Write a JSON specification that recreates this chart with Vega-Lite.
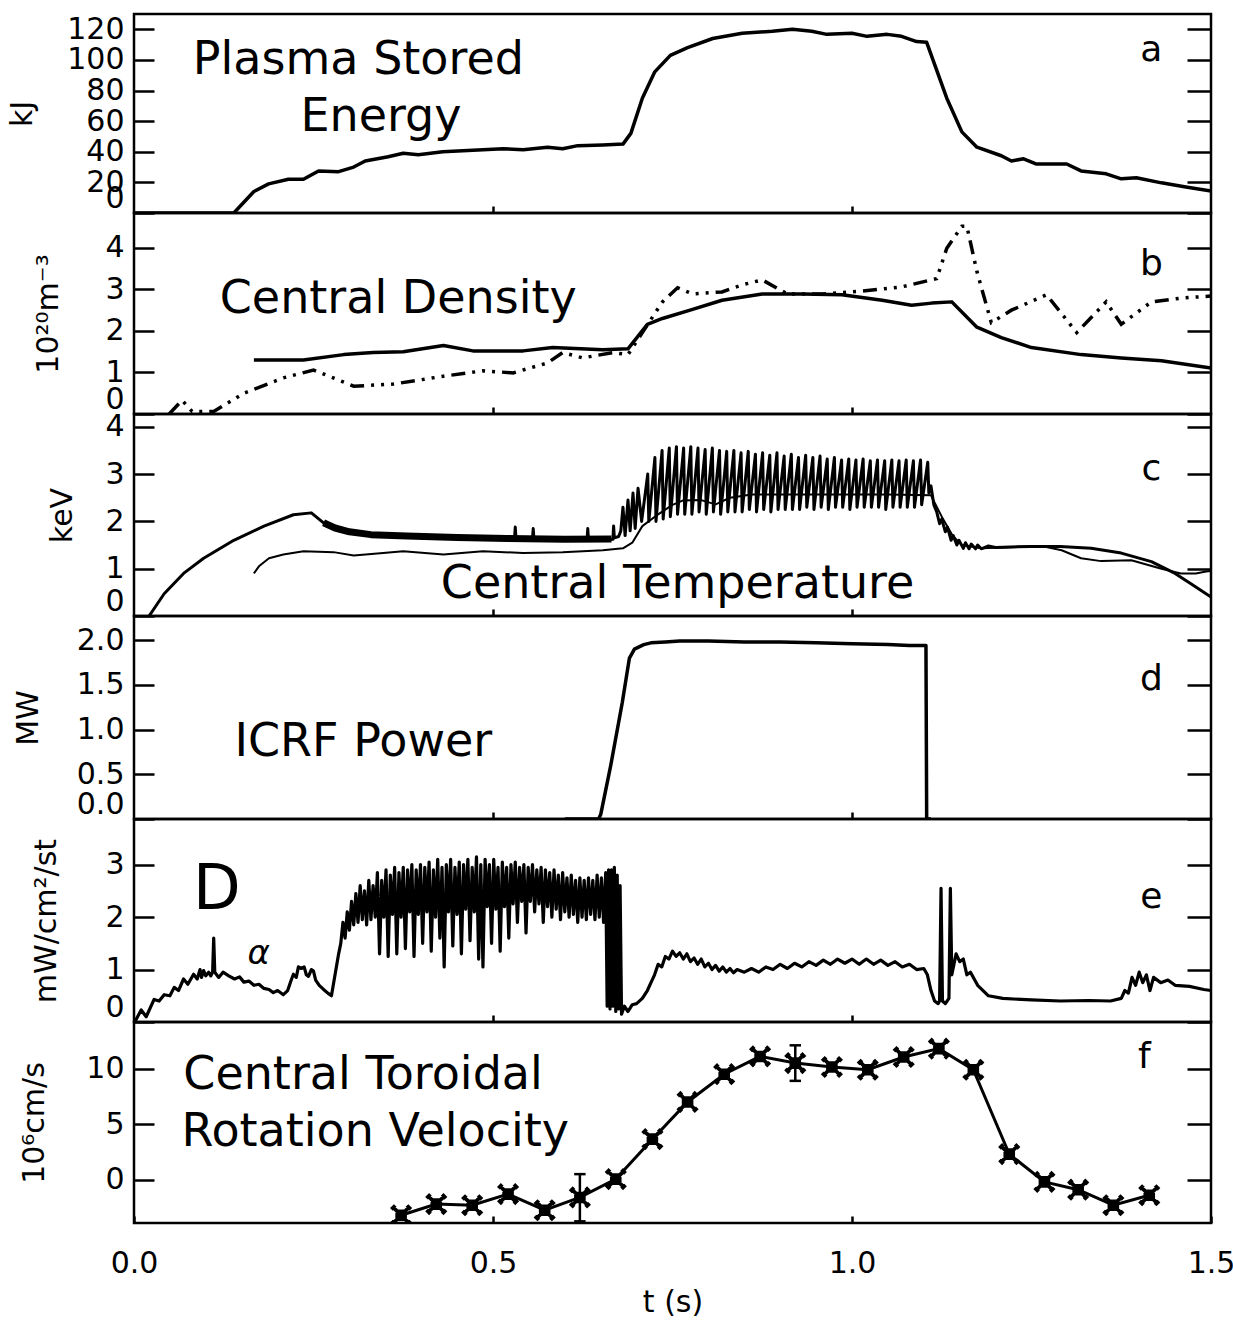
{
"$schema": "https://vega.github.io/schema/vega-lite/v6.json",
"padding": {"top": 12, "left": 5, "right": 5, "bottom": 5},
"spacing": 0,
"bounds": "flush",
"config": {
 "view": {"stroke": "black", "strokeWidth": 2.5},
 "axis": {"labelFont": "DejaVu Sans", "labelFontSize": 30, "labelColor": "black", "titleFont": "DejaVu Sans", "titleFontSize": 30, "titleFontWeight": "normal", "titleColor": "black", "domain": false, "grid": false, "tickColor": "black", "tickWidth": 2.5, "labelOverlap": false},
 "text": {"font": "DejaVu Sans", "color": "black"}
},
"datasets": {
 "energy": [{"t":0,"v":0},{"t":0.139,"v":0},{"t":0.167,"v":14},{"t":0.1875,"v":19},{"t":0.215,"v":22},{"t":0.236,"v":22},{"t":0.257,"v":27.5},{"t":0.285,"v":27},{"t":0.306,"v":30},{"t":0.322,"v":34},{"t":0.354,"v":36.7},{"t":0.375,"v":39},{"t":0.396,"v":38},{"t":0.43,"v":40},{"t":0.472,"v":41},{"t":0.514,"v":42},{"t":0.542,"v":41.3},{"t":0.576,"v":43},{"t":0.597,"v":42},{"t":0.618,"v":44},{"t":0.653,"v":44.5},{"t":0.681,"v":45},{"t":0.692,"v":52},{"t":0.708,"v":75},{"t":0.725,"v":92},{"t":0.747,"v":103},{"t":0.771,"v":108},{"t":0.806,"v":114},{"t":0.847,"v":117.4},{"t":0.889,"v":118.7},{"t":0.917,"v":120},{"t":0.944,"v":118.7},{"t":0.965,"v":116.7},{"t":1.0,"v":117.4},{"t":1.021,"v":115.4},{"t":1.049,"v":116.7},{"t":1.069,"v":115.4},{"t":1.09,"v":112},{"t":1.104,"v":111.5},{"t":1.132,"v":75},{"t":1.153,"v":53},{"t":1.174,"v":43},{"t":1.208,"v":37.4},{"t":1.222,"v":34},{"t":1.239,"v":35.4},{"t":1.257,"v":32},{"t":1.299,"v":32},{"t":1.319,"v":27.5},{"t":1.354,"v":25.6},{"t":1.375,"v":22.3},{"t":1.396,"v":23},{"t":1.431,"v":19.7},{"t":1.465,"v":17},{"t":1.5,"v":14.4}],
 "dsolid": [{"t":0.167,"v":1.3},{"t":0.236,"v":1.3},{"t":0.292,"v":1.43},{"t":0.333,"v":1.48},{"t":0.375,"v":1.5},{"t":0.431,"v":1.65},{"t":0.472,"v":1.52},{"t":0.542,"v":1.52},{"t":0.583,"v":1.6},{"t":0.653,"v":1.55},{"t":0.688,"v":1.57},{"t":0.715,"v":2.16},{"t":0.736,"v":2.3},{"t":0.778,"v":2.52},{"t":0.819,"v":2.74},{"t":0.875,"v":2.89},{"t":0.931,"v":2.89},{"t":0.986,"v":2.87},{"t":1.042,"v":2.74},{"t":1.083,"v":2.62},{"t":1.111,"v":2.67},{"t":1.139,"v":2.7},{"t":1.174,"v":2.09},{"t":1.208,"v":1.84},{"t":1.25,"v":1.6},{"t":1.319,"v":1.43},{"t":1.375,"v":1.35},{"t":1.431,"v":1.28},{"t":1.5,"v":1.11}],
 "ddash": [{"t":0.049,"v":0},{"t":0.067,"v":0.33},{"t":0.081,"v":0.06},{"t":0.111,"v":0.06},{"t":0.153,"v":0.5},{"t":0.208,"v":0.87},{"t":0.25,"v":1.06},{"t":0.306,"v":0.67},{"t":0.361,"v":0.72},{"t":0.431,"v":0.91},{"t":0.486,"v":1.04},{"t":0.528,"v":0.99},{"t":0.576,"v":1.23},{"t":0.597,"v":1.48},{"t":0.625,"v":1.35},{"t":0.667,"v":1.48},{"t":0.688,"v":1.43},{"t":0.708,"v":1.96},{"t":0.736,"v":2.7},{"t":0.757,"v":3.04},{"t":0.778,"v":2.89},{"t":0.819,"v":2.94},{"t":0.847,"v":3.11},{"t":0.875,"v":3.23},{"t":0.91,"v":2.89},{"t":0.958,"v":2.89},{"t":1.014,"v":2.96},{"t":1.069,"v":3.06},{"t":1.118,"v":3.26},{"t":1.132,"v":3.99},{"t":1.153,"v":4.52},{"t":1.16,"v":4.52},{"t":1.174,"v":3.43},{"t":1.194,"v":2.2},{"t":1.222,"v":2.5},{"t":1.271,"v":2.87},{"t":1.313,"v":1.96},{"t":1.354,"v":2.7},{"t":1.375,"v":2.16},{"t":1.417,"v":2.7},{"t":1.458,"v":2.79},{"t":1.5,"v":2.84}],
 "te": [{"t":0.021,"v":0},{"t":0.042,"v":0.47},{"t":0.069,"v":0.9},{"t":0.097,"v":1.22},{"t":0.139,"v":1.6},{"t":0.181,"v":1.9},{"t":0.222,"v":2.14},{"t":0.247,"v":2.18},{"t":0.264,"v":1.97},{"t":0.292,"v":1.8},{"t":0.347,"v":1.69},{"t":0.444,"v":1.65},{"t":0.53,"v":1.64},{"t":0.531,"v":1.88},{"t":0.532,"v":1.64},{"t":0.555,"v":1.63},{"t":0.556,"v":1.85},{"t":0.557,"v":1.63},{"t":0.631,"v":1.61},{"t":0.632,"v":1.85},{"t":0.633,"v":1.61},{"t":0.653,"v":1.6},{"t":0.667,"v":1.62},{"t":0.668,"v":1.9},{"t":0.669,"v":1.65},{"t":0.675,"v":1.68},{"t":0.678,"v":1.8},{"t":0.681,"v":2.3},{"t":0.684,"v":1.7},{"t":0.688,"v":2.45},{"t":0.691,"v":1.8},{"t":0.695,"v":2.6},{"t":0.698,"v":1.85},{"t":0.702,"v":2.7},
 {"t":0.707,"v":2.0},{"t":0.7155,"v":3.0},{"t":0.717,"v":2.0},{"t":0.7255,"v":3.35},{"t":0.727,"v":2.0},{"t":0.7355,"v":3.5},{"t":0.737,"v":2.05},{"t":0.7455,"v":3.55},{"t":0.747,"v":2.1},{"t":0.7555,"v":3.58},{"t":0.757,"v":2.15},{"t":0.7655,"v":3.55},{"t":0.767,"v":2.15},{"t":0.7755,"v":3.58},{"t":0.777,"v":2.15},{"t":0.7855,"v":3.55},{"t":0.787,"v":2.2},{"t":0.7955,"v":3.52},{"t":0.797,"v":2.15},{"t":0.8055,"v":3.55},{"t":0.807,"v":2.2},{"t":0.8155,"v":3.5},{"t":0.817,"v":2.15},{"t":0.8255,"v":3.48},{"t":0.827,"v":2.2},{"t":0.8355,"v":3.5},{"t":0.837,"v":2.2},{"t":0.8455,"v":3.45},{"t":0.847,"v":2.2},{"t":0.8555,"v":3.48},{"t":0.857,"v":2.25},{"t":0.8655,"v":3.42},{"t":0.867,"v":2.2},{"t":0.8755,"v":3.45},{"t":0.877,"v":2.25},{"t":0.8855,"v":3.4},{"t":0.887,"v":2.2},{"t":0.8955,"v":3.45},{"t":0.897,"v":2.25},{"t":0.9055,"v":3.38},{"t":0.907,"v":2.25},{"t":0.9155,"v":3.42},{"t":0.917,"v":2.25},{"t":0.9255,"v":3.35},{"t":0.927,"v":2.25},{"t":0.9355,"v":3.4},{"t":0.937,"v":2.3},{"t":0.9455,"v":3.35},{"t":0.947,"v":2.25},{"t":0.9555,"v":3.38},{"t":0.957,"v":2.3},{"t":0.9655,"v":3.32},{"t":0.967,"v":2.25},{"t":0.9755,"v":3.35},{"t":0.977,"v":2.3},{"t":0.9855,"v":3.3},{"t":0.987,"v":2.3},{"t":0.9955,"v":3.32},{"t":0.997,"v":2.25},{"t":1.0055,"v":3.3},{"t":1.007,"v":2.3},{"t":1.0155,"v":3.32},{"t":1.017,"v":2.3},{"t":1.0255,"v":3.28},{"t":1.027,"v":2.3},{"t":1.0355,"v":3.3},{"t":1.037,"v":2.3},{"t":1.0455,"v":3.28},{"t":1.047,"v":2.25},{"t":1.0555,"v":3.3},{"t":1.057,"v":2.3},{"t":1.0655,"v":3.28},{"t":1.067,"v":2.3},{"t":1.0755,"v":3.3},{"t":1.077,"v":2.3},{"t":1.0855,"v":3.28},{"t":1.087,"v":2.3},{"t":1.0955,"v":3.3},{"t":1.097,"v":2.35},{"t":1.1055,"v":3.25},
 {"t":1.107,"v":2.6},{"t":1.11,"v":2.75},{"t":1.114,"v":2.35},{"t":1.118,"v":2.2},{"t":1.122,"v":1.95},{"t":1.125,"v":2.05},{"t":1.13,"v":1.78},{"t":1.133,"v":1.88},{"t":1.138,"v":1.6},{"t":1.141,"v":1.7},{"t":1.146,"v":1.5},{"t":1.149,"v":1.6},{"t":1.155,"v":1.43},{"t":1.158,"v":1.55},{"t":1.163,"v":1.42},{"t":1.166,"v":1.52},{"t":1.172,"v":1.42},{"t":1.175,"v":1.5},{"t":1.18,"v":1.42},{"t":1.19,"v":1.48},{"t":1.2,"v":1.45},{"t":1.25,"v":1.47},{"t":1.29,"v":1.47},{"t":1.333,"v":1.43},{"t":1.375,"v":1.33},{"t":1.417,"v":1.15},{"t":1.45,"v":0.9},{"t":1.472,"v":0.68},{"t":1.5,"v":0.4}],
 "teband": [{"t":0.264,"v":1.97},{"t":0.28,"v":1.86},{"t":0.3,"v":1.78},{"t":0.33,"v":1.72},{"t":0.38,"v":1.69},{"t":0.45,"v":1.66},{"t":0.52,"v":1.64},{"t":0.6,"v":1.62},{"t":0.665,"v":1.63}],
 "ti": [{"t":0.167,"v":0.9},{"t":0.174,"v":1.05},{"t":0.188,"v":1.22},{"t":0.208,"v":1.3},{"t":0.236,"v":1.37},{"t":0.278,"v":1.35},{"t":0.306,"v":1.28},{"t":0.347,"v":1.33},{"t":0.375,"v":1.37},{"t":0.431,"v":1.3},{"t":0.486,"v":1.37},{"t":0.542,"v":1.33},{"t":0.597,"v":1.35},{"t":0.653,"v":1.39},{"t":0.681,"v":1.43},{"t":0.694,"v":1.55},{"t":0.708,"v":1.9},{"t":0.73,"v":2.15},{"t":0.75,"v":2.35},{"t":0.764,"v":2.44},{"t":0.79,"v":2.45},{"t":0.81,"v":2.36},{"t":0.83,"v":2.5},{"t":0.86,"v":2.57},{"t":0.95,"v":2.57},{"t":1.05,"v":2.57},{"t":1.11,"v":2.55},{"t":1.125,"v":2.1},{"t":1.14,"v":1.7},{"t":1.153,"v":1.5},{"t":1.18,"v":1.43},{"t":1.264,"v":1.48},{"t":1.292,"v":1.39},{"t":1.319,"v":1.22},{"t":1.347,"v":1.16},{"t":1.389,"v":1.18},{"t":1.431,"v":1.0},{"t":1.458,"v":0.9},{"t":1.479,"v":0.9},{"t":1.493,"v":0.94},{"t":1.5,"v":0.95}],
 "icrf": [{"t":0.6,"v":0},{"t":0.647,"v":0},{"t":0.65,"v":0.05},{"t":0.664,"v":0.6},{"t":0.68,"v":1.3},{"t":0.69,"v":1.8},{"t":0.697,"v":1.9},{"t":0.71,"v":1.95},{"t":0.72,"v":1.97},{"t":0.74,"v":1.98},{"t":0.76,"v":1.99},{"t":0.8,"v":1.99},{"t":0.85,"v":1.98},{"t":0.9,"v":1.98},{"t":0.95,"v":1.97},{"t":1.0,"v":1.96},{"t":1.05,"v":1.95},{"t":1.08,"v":1.94},{"t":1.103,"v":1.94},{"t":1.104,"v":0},{"t":1.11,"v":0}],
 "dalpha": [{"t":0.0,"v":0.02},{"t":0.003,"v":0.05},{"t":0.01,"v":0.23},{"t":0.017,"v":0.1},{"t":0.028,"v":0.43},{"t":0.035,"v":0.4},{"t":0.042,"v":0.52},{"t":0.05,"v":0.5},{"t":0.056,"v":0.66},{"t":0.062,"v":0.6},{"t":0.069,"v":0.82},{"t":0.075,"v":0.72},{"t":0.083,"v":0.91},{"t":0.088,"v":0.82},{"t":0.092,"v":1.0},{"t":0.094,"v":0.85},{"t":0.097,"v":0.98},{"t":0.1,"v":0.88},{"t":0.104,"v":0.95},{"t":0.107,"v":0.88},{"t":0.1095,"v":0.95},{"t":0.111,"v":1.6},{"t":0.1125,"v":0.95},{"t":0.118,"v":0.85},{"t":0.124,"v":0.95},{"t":0.132,"v":0.88},{"t":0.14,"v":0.82},{"t":0.147,"v":0.86},{"t":0.153,"v":0.76},{"t":0.16,"v":0.78},{"t":0.167,"v":0.7},{"t":0.174,"v":0.72},{"t":0.181,"v":0.64},{"t":0.188,"v":0.62},{"t":0.194,"v":0.56},{"t":0.2,"v":0.6},{"t":0.208,"v":0.52},{"t":0.214,"v":0.6},{"t":0.219,"v":0.8},{"t":0.222,"v":0.91},{"t":0.226,"v":0.85},{"t":0.229,"v":1.05},{"t":0.233,"v":1.02},{"t":0.237,"v":1.05},{"t":0.24,"v":0.9},{"t":0.243,"v":0.87},{"t":0.247,"v":1.0},{"t":0.25,"v":0.97},{"t":0.253,"v":0.8},{"t":0.258,"v":0.7},{"t":0.264,"v":0.62},{"t":0.27,"v":0.55},{"t":0.275,"v":0.5},{"t":0.28,"v":0.9},{"t":0.285,"v":1.3},
 {"t":0.288,"v":1.5},{"t":0.291,"v":1.9},{"t":0.294,"v":1.6},{"t":0.297,"v":2.1},{"t":0.3,"v":1.75},{"t":0.303,"v":2.3},{"t":0.306,"v":1.85},{"t":0.309,"v":2.45},{"t":0.312,"v":1.9},{"t":0.315,"v":2.6},{"t":0.318,"v":1.95},{"t":0.321,"v":2.5},{"t":0.324,"v":1.85},{"t":0.327,"v":2.7},{"t":0.33,"v":1.95},{"t":0.333,"v":2.6},{"t":0.336,"v":2.0},{"t":0.339,"v":2.85},{"t":0.342,"v":1.3},{"t":0.345,"v":2.7},{"t":0.348,"v":2.0},{"t":0.351,"v":2.9},{"t":0.354,"v":1.25},{"t":0.357,"v":2.8},{"t":0.36,"v":2.05},{"t":0.363,"v":2.95},{"t":0.366,"v":1.3},{"t":0.369,"v":2.85},{"t":0.372,"v":2.0},{"t":0.375,"v":2.95},{"t":0.378,"v":1.4},{"t":0.381,"v":2.9},{"t":0.384,"v":2.1},{"t":0.387,"v":3.0},{"t":0.39,"v":1.25},{"t":0.393,"v":2.9},{"t":0.396,"v":2.05},{"t":0.399,"v":3.0},{"t":0.402,"v":1.5},{"t":0.405,"v":2.95},{"t":0.408,"v":2.1},{"t":0.411,"v":3.05},{"t":0.414,"v":1.35},{"t":0.417,"v":2.9},{"t":0.42,"v":2.0},{"t":0.423,"v":3.1},{"t":0.426,"v":1.6},{"t":0.429,"v":2.95},{"t":0.432,"v":1.05},{"t":0.435,"v":3.0},{"t":0.438,"v":2.1},{"t":0.441,"v":3.1},{"t":0.444,"v":1.45},{"t":0.447,"v":2.95},{"t":0.45,"v":2.05},{"t":0.453,"v":3.05},{"t":0.456,"v":1.3},{"t":0.459,"v":3.0},{"t":0.462,"v":2.15},{"t":0.465,"v":3.1},{"t":0.468,"v":1.55},{"t":0.471,"v":2.95},{"t":0.474,"v":2.1},{"t":0.477,"v":3.15},{"t":0.48,"v":1.2},{"t":0.483,"v":3.0},{"t":0.486,"v":1.05},{"t":0.489,"v":3.1},{"t":0.492,"v":2.2},{"t":0.495,"v":3.0},{"t":0.498,"v":1.5},{"t":0.501,"v":3.1},{"t":0.504,"v":2.15},{"t":0.507,"v":2.95},{"t":0.51,"v":1.35},{"t":0.513,"v":3.05},{"t":0.516,"v":2.2},{"t":0.519,"v":2.95},{"t":0.522,"v":1.6},{"t":0.525,"v":3.0},{"t":0.528,"v":2.25},{"t":0.531,"v":3.05},{"t":0.534,"v":1.9},{"t":0.537,"v":2.95},{"t":0.54,"v":2.3},{"t":0.543,"v":3.0},{"t":0.546,"v":1.7},{"t":0.549,"v":2.95},{"t":0.552,"v":2.3},{"t":0.555,"v":3.0},{"t":0.558,"v":2.1},{"t":0.561,"v":2.9},{"t":0.564,"v":2.25},{"t":0.567,"v":2.95},{"t":0.57,"v":1.9},{"t":0.573,"v":2.9},{"t":0.576,"v":2.2},{"t":0.579,"v":2.85},{"t":0.582,"v":2.0},{"t":0.585,"v":2.9},{"t":0.588,"v":2.15},{"t":0.591,"v":2.8},{"t":0.594,"v":1.95},{"t":0.597,"v":2.85},{"t":0.6,"v":2.1},{"t":0.603,"v":2.75},{"t":0.606,"v":2.0},{"t":0.609,"v":2.8},{"t":0.612,"v":2.05},{"t":0.615,"v":2.7},{"t":0.618,"v":1.9},{"t":0.621,"v":2.75},{"t":0.624,"v":2.0},{"t":0.627,"v":2.7},{"t":0.63,"v":1.95},{"t":0.633,"v":2.75},{"t":0.636,"v":2.05},{"t":0.639,"v":2.7},{"t":0.642,"v":1.95},{"t":0.645,"v":2.8},{"t":0.648,"v":2.0},{"t":0.651,"v":2.75},{"t":0.654,"v":1.9},{"t":0.657,"v":2.85},{"t":0.659,"v":0.3},{"t":0.661,"v":2.9},{"t":0.663,"v":0.25},{"t":0.665,"v":2.9},{"t":0.667,"v":0.3},{"t":0.669,"v":2.95},{"t":0.671,"v":0.2},{"t":0.673,"v":2.8},{"t":0.675,"v":0.25},{"t":0.677,"v":2.6},{"t":0.679,"v":0.15},{"t":0.683,"v":0.3},{"t":0.688,"v":0.2},
 {"t":0.694,"v":0.33},{"t":0.7,"v":0.35},{"t":0.708,"v":0.45},{"t":0.715,"v":0.6},{"t":0.72,"v":0.75},{"t":0.725,"v":0.9},{"t":0.73,"v":1.1},{"t":0.735,"v":1.05},{"t":0.74,"v":1.25},{"t":0.745,"v":1.2},{"t":0.75,"v":1.35},{"t":0.755,"v":1.25},{"t":0.76,"v":1.32},{"t":0.765,"v":1.2},{"t":0.77,"v":1.3},{"t":0.775,"v":1.15},{"t":0.78,"v":1.22},{"t":0.785,"v":1.1},{"t":0.79,"v":1.2},{"t":0.795,"v":1.05},{"t":0.8,"v":1.12},{"t":0.805,"v":1.0},{"t":0.81,"v":1.08},{"t":0.815,"v":0.97},{"t":0.82,"v":1.05},{"t":0.825,"v":0.95},{"t":0.83,"v":1.02},{"t":0.835,"v":0.94},{"t":0.84,"v":1.0},{"t":0.85,"v":0.95},{"t":0.86,"v":1.02},{"t":0.87,"v":0.95},{"t":0.88,"v":1.05},{"t":0.89,"v":1.0},{"t":0.9,"v":1.1},{"t":0.91,"v":1.02},{"t":0.92,"v":1.12},{"t":0.93,"v":1.05},{"t":0.94,"v":1.15},{"t":0.95,"v":1.08},{"t":0.96,"v":1.18},{"t":0.97,"v":1.1},{"t":0.98,"v":1.2},{"t":0.99,"v":1.12},{"t":1.0,"v":1.2},{"t":1.01,"v":1.1},{"t":1.02,"v":1.2},{"t":1.03,"v":1.1},{"t":1.04,"v":1.18},{"t":1.05,"v":1.08},{"t":1.06,"v":1.15},{"t":1.07,"v":1.05},{"t":1.08,"v":1.1},{"t":1.09,"v":1.0},{"t":1.1,"v":1.02},{"t":1.105,"v":0.9},{"t":1.11,"v":0.6},{"t":1.115,"v":0.4},{"t":1.12,"v":0.35},{"t":1.122,"v":0.4},{"t":1.124,"v":2.55},{"t":1.126,"v":0.4},{"t":1.13,"v":0.35},{"t":1.135,"v":0.45},{"t":1.137,"v":2.55},{"t":1.139,"v":0.9},{"t":1.145,"v":1.3},{"t":1.15,"v":1.15},{"t":1.155,"v":1.2},{"t":1.16,"v":0.9},{"t":1.165,"v":0.95},{"t":1.175,"v":0.7},{"t":1.19,"v":0.5},{"t":1.21,"v":0.45},{"t":1.25,"v":0.42},{"t":1.29,"v":0.4},{"t":1.33,"v":0.41},{"t":1.36,"v":0.4},{"t":1.375,"v":0.45},{"t":1.38,"v":0.6},{"t":1.385,"v":0.55},{"t":1.39,"v":0.85},{"t":1.395,"v":0.7},{"t":1.4,"v":0.95},{"t":1.405,"v":0.75},{"t":1.41,"v":0.9},{"t":1.415,"v":0.6},{"t":1.42,"v":0.85},{"t":1.43,"v":0.75},{"t":1.44,"v":0.8},{"t":1.45,"v":0.7},{"t":1.47,"v":0.68},{"t":1.49,"v":0.62},{"t":1.5,"v":0.6}],
 "rot": [{"t":0.372,"v":-3.2},{"t":0.421,"v":-2.2},{"t":0.471,"v":-2.3},{"t":0.521,"v":-1.3},{"t":0.572,"v":-2.75},{"t":0.621,"v":-1.6},{"t":0.671,"v":0.05},{"t":0.722,"v":3.65},{"t":0.771,"v":7.0},{"t":0.822,"v":9.5},{"t":0.872,"v":11.1},{"t":0.921,"v":10.5},{"t":0.972,"v":10.15},{"t":1.022,"v":9.9},{"t":1.072,"v":11.05},{"t":1.121,"v":11.8},{"t":1.169,"v":9.9},{"t":1.219,"v":2.3},{"t":1.268,"v":-0.2},{"t":1.315,"v":-0.9},{"t":1.364,"v":-2.3},{"t":1.414,"v":-1.4}],
 "roterr": [{"t":0.621,"lo":-3.75,"hi":0.5},{"t":0.921,"lo":8.9,"hi":12.1}],
 "notes": [
  {"p":"a","k":"title","label":"Plasma Stored","t":0.3125,"v":99.9},
  {"p":"a","k":"title","label":"Energy","t":0.344,"v":62.7},
  {"p":"a","k":"letter","label":"a","t":1.417,"v":106.5},
  {"p":"b","k":"title","label":"Central Density","t":0.368,"v":2.77},
  {"p":"b","k":"letter","label":"b","t":1.417,"v":3.61},
  {"p":"c","k":"title","label":"Central Temperature","t":0.757,"v":0.676},
  {"p":"c","k":"letter","label":"c","t":1.417,"v":3.11},
  {"p":"d","k":"title","label":"ICRF Power","t":0.3194,"v":0.861},
  {"p":"d","k":"letter","label":"d","t":1.417,"v":1.565},
  {"p":"e","k":"big","label":"D","t":0.1153,"v":2.52},
  {"p":"e","k":"sub","label":"α","t":0.1736,"v":1.3},
  {"p":"e","k":"letter","label":"e","t":1.417,"v":2.38},
  {"p":"f","k":"title","label":"Central Toroidal","t":0.319,"v":9.43},
  {"p":"f","k":"title","label":"Rotation Velocity","t":0.336,"v":4.29},
  {"p":"f","k":"letter","label":"f","t":1.407,"v":11.05}
 ]
},
"vconcat": [
 {
  "width": 1077, "height": 199,
  "layer": [
   {"data": {"name": "energy"}, "mark": {"type": "line", "color": "black", "strokeWidth": 3.5, "strokeJoin": "round", "clip": true},
    "encoding": {
     "x": {"field": "t", "type": "quantitative", "scale": {"domain": [0, 1.5], "nice": false, "zero": false}, "axis": {"orient": "bottom", "values": [0.5, 1.0], "labels": false, "title": null, "tickSize": -7}},
     "y": {"field": "v", "type": "quantitative", "scale": {"domain": [0, 130], "nice": false, "zero": false}, "axis": {"orient": "left", "values": [0, 20, 40, 60, 80, 100, 120], "tickSize": -20, "labelPadding": 30, "labelFlush": true, "title": "kJ", "titleX": -112, "titleBaseline": "middle", "titleAlign": "center"}}
    }},
   {"data": {"name": "notes"}, "transform": [{"filter": "datum.p == 'a' && datum.k == 'title'"}], "mark": {"type": "text", "fontSize": 46, "align": "center", "baseline": "middle"},
    "encoding": {"x": {"field": "t", "type": "quantitative", "scale": {"domain": [0, 1.5], "nice": false, "zero": false}}, "y": {"field": "v", "type": "quantitative", "scale": {"domain": [0, 130], "nice": false, "zero": false}, "axis": null}, "text": {"field": "label"}}},
   {"data": {"name": "notes"}, "transform": [{"filter": "datum.p == 'a' && datum.k == 'letter'"}], "mark": {"type": "text", "fontSize": 36, "align": "center", "baseline": "middle"},
    "encoding": {"x": {"field": "t", "type": "quantitative", "scale": {"domain": [0, 1.5], "nice": false, "zero": false}}, "y": {"field": "v", "type": "quantitative", "scale": {"domain": [0, 130], "nice": false, "zero": false}, "axis": {"orient": "right", "values": [0, 20, 40, 60, 80, 100, 120], "labels": false, "title": null, "tickSize": -24}}, "text": {"field": "label"}}}
  ],
  "resolve": {"axis": {"y": "independent"}}
 },
 {
  "width": 1077, "height": 201,
  "layer": [
   {"data": {"name": "dsolid"}, "mark": {"type": "line", "color": "black", "strokeWidth": 3.5, "strokeJoin": "round", "clip": true},
    "encoding": {
     "x": {"field": "t", "type": "quantitative", "scale": {"domain": [0, 1.5], "nice": false, "zero": false}, "axis": {"orient": "bottom", "values": [0.5, 1.0], "labels": false, "title": null, "tickSize": -7}},
     "y": {"field": "v", "type": "quantitative", "scale": {"domain": [0, 4.84], "nice": false, "zero": false}, "axis": {"orient": "left", "values": [0, 1, 2, 3, 4], "tickSize": -20, "labelPadding": 30, "labelFlush": true, "title": "10²⁰m⁻³", "titleX": -86, "titleBaseline": "middle", "titleAlign": "center"}}
    }},
   {"data": {"name": "ddash"}, "mark": {"type": "line", "color": "black", "strokeWidth": 3.5, "strokeDash": [14, 7, 3, 7, 3, 7, 3, 7], "clip": true},
    "encoding": {"x": {"field": "t", "type": "quantitative", "scale": {"domain": [0, 1.5], "nice": false, "zero": false}}, "y": {"field": "v", "type": "quantitative", "scale": {"domain": [0, 4.84], "nice": false, "zero": false}, "axis": null}}},
   {"data": {"name": "notes"}, "transform": [{"filter": "datum.p == 'b' && datum.k == 'title'"}], "mark": {"type": "text", "fontSize": 46, "align": "center", "baseline": "middle"},
    "encoding": {"x": {"field": "t", "type": "quantitative", "scale": {"domain": [0, 1.5], "nice": false, "zero": false}}, "y": {"field": "v", "type": "quantitative", "scale": {"domain": [0, 4.84], "nice": false, "zero": false}, "axis": null}, "text": {"field": "label"}}},
   {"data": {"name": "notes"}, "transform": [{"filter": "datum.p == 'b' && datum.k == 'letter'"}], "mark": {"type": "text", "fontSize": 36, "align": "center", "baseline": "middle"},
    "encoding": {"x": {"field": "t", "type": "quantitative", "scale": {"domain": [0, 1.5], "nice": false, "zero": false}}, "y": {"field": "v", "type": "quantitative", "scale": {"domain": [0, 4.84], "nice": false, "zero": false}, "axis": {"orient": "right", "values": [0, 1, 2, 3, 4], "labels": false, "title": null, "tickSize": -24}}, "text": {"field": "label"}}}
  ],
  "resolve": {"axis": {"y": "independent"}}
 },
 {
  "width": 1077, "height": 202,
  "layer": [
   {"data": {"name": "te"}, "mark": {"type": "line", "color": "black", "strokeWidth": 3, "strokeJoin": "round", "clip": true},
    "encoding": {
     "x": {"field": "t", "type": "quantitative", "scale": {"domain": [0, 1.5], "nice": false, "zero": false}, "axis": {"orient": "bottom", "values": [0.5, 1.0], "labels": false, "title": null, "tickSize": -7}},
     "y": {"field": "v", "type": "quantitative", "scale": {"domain": [0, 4.27], "nice": false, "zero": false}, "axis": {"orient": "left", "values": [0, 1, 2, 3, 4], "tickSize": -20, "labelPadding": 30, "labelFlush": true, "title": "keV", "titleX": -72, "titleBaseline": "middle", "titleAlign": "center"}}
    }},
   {"data": {"name": "teband"}, "mark": {"type": "line", "color": "black", "strokeWidth": 7, "strokeJoin": "round", "clip": true},
    "encoding": {"x": {"field": "t", "type": "quantitative", "scale": {"domain": [0, 1.5], "nice": false, "zero": false}}, "y": {"field": "v", "type": "quantitative", "scale": {"domain": [0, 4.27], "nice": false, "zero": false}, "axis": null}}},
   {"data": {"name": "ti"}, "mark": {"type": "line", "color": "black", "strokeWidth": 2, "strokeJoin": "round", "clip": true},
    "encoding": {"x": {"field": "t", "type": "quantitative", "scale": {"domain": [0, 1.5], "nice": false, "zero": false}}, "y": {"field": "v", "type": "quantitative", "scale": {"domain": [0, 4.27], "nice": false, "zero": false}, "axis": null}}},
   {"data": {"name": "notes"}, "transform": [{"filter": "datum.p == 'c' && datum.k == 'title'"}], "mark": {"type": "text", "fontSize": 46, "align": "center", "baseline": "middle"},
    "encoding": {"x": {"field": "t", "type": "quantitative", "scale": {"domain": [0, 1.5], "nice": false, "zero": false}}, "y": {"field": "v", "type": "quantitative", "scale": {"domain": [0, 4.27], "nice": false, "zero": false}, "axis": null}, "text": {"field": "label"}}},
   {"data": {"name": "notes"}, "transform": [{"filter": "datum.p == 'c' && datum.k == 'letter'"}], "mark": {"type": "text", "fontSize": 36, "align": "center", "baseline": "middle"},
    "encoding": {"x": {"field": "t", "type": "quantitative", "scale": {"domain": [0, 1.5], "nice": false, "zero": false}}, "y": {"field": "v", "type": "quantitative", "scale": {"domain": [0, 4.27], "nice": false, "zero": false}, "axis": {"orient": "right", "values": [0, 1, 2, 3, 4], "labels": false, "title": null, "tickSize": -24}}, "text": {"field": "label"}}}
  ],
  "resolve": {"axis": {"y": "independent"}}
 },
 {
  "width": 1077, "height": 203,
  "layer": [
   {"data": {"name": "icrf"}, "mark": {"type": "line", "color": "black", "strokeWidth": 3.5, "strokeJoin": "round", "clip": true},
    "encoding": {
     "x": {"field": "t", "type": "quantitative", "scale": {"domain": [0, 1.5], "nice": false, "zero": false}, "axis": {"orient": "bottom", "values": [0.5, 1.0], "labels": false, "title": null, "tickSize": -7}},
     "y": {"field": "v", "type": "quantitative", "scale": {"domain": [0, 2.27], "nice": false, "zero": false}, "axis": {"orient": "left", "values": [0, 0.5, 1, 1.5, 2], "format": ".1f", "tickSize": -20, "labelPadding": 30, "labelFlush": true, "title": "MW", "titleX": -106, "titleBaseline": "middle", "titleAlign": "center"}}
    }},
   {"data": {"name": "notes"}, "transform": [{"filter": "datum.p == 'd' && datum.k == 'title'"}], "mark": {"type": "text", "fontSize": 46, "align": "center", "baseline": "middle"},
    "encoding": {"x": {"field": "t", "type": "quantitative", "scale": {"domain": [0, 1.5], "nice": false, "zero": false}}, "y": {"field": "v", "type": "quantitative", "scale": {"domain": [0, 2.27], "nice": false, "zero": false}, "axis": null}, "text": {"field": "label"}}},
   {"data": {"name": "notes"}, "transform": [{"filter": "datum.p == 'd' && datum.k == 'letter'"}], "mark": {"type": "text", "fontSize": 36, "align": "center", "baseline": "middle"},
    "encoding": {"x": {"field": "t", "type": "quantitative", "scale": {"domain": [0, 1.5], "nice": false, "zero": false}}, "y": {"field": "v", "type": "quantitative", "scale": {"domain": [0, 2.27], "nice": false, "zero": false}, "axis": {"orient": "right", "values": [0, 0.5, 1, 1.5, 2], "labels": false, "title": null, "tickSize": -24}}, "text": {"field": "label"}}}
  ],
  "resolve": {"axis": {"y": "independent"}}
 },
 {
  "width": 1077, "height": 203,
  "layer": [
   {"data": {"name": "dalpha"}, "mark": {"type": "line", "color": "black", "strokeWidth": 3.2, "strokeJoin": "round", "clip": true},
    "encoding": {
     "x": {"field": "t", "type": "quantitative", "scale": {"domain": [0, 1.5], "nice": false, "zero": false}, "axis": {"orient": "bottom", "values": [0.5, 1.0], "labels": false, "title": null, "tickSize": -7}},
     "y": {"field": "v", "type": "quantitative", "scale": {"domain": [0, 3.87], "nice": false, "zero": false}, "axis": {"orient": "left", "values": [0, 1, 2, 3], "tickSize": -20, "labelPadding": 30, "labelFlush": true, "title": "mW/cm²/st", "titleX": -88, "titleBaseline": "middle", "titleAlign": "center"}}
    }},
   {"data": {"name": "notes"}, "transform": [{"filter": "datum.p == 'e' && datum.k == 'big'"}], "mark": {"type": "text", "fontSize": 62, "align": "center", "baseline": "middle"},
    "encoding": {"x": {"field": "t", "type": "quantitative", "scale": {"domain": [0, 1.5], "nice": false, "zero": false}}, "y": {"field": "v", "type": "quantitative", "scale": {"domain": [0, 3.87], "nice": false, "zero": false}, "axis": null}, "text": {"field": "label"}}},
   {"data": {"name": "notes"}, "transform": [{"filter": "datum.p == 'e' && datum.k == 'sub'"}], "mark": {"type": "text", "fontSize": 34, "fontStyle": "italic", "align": "center", "baseline": "middle"},
    "encoding": {"x": {"field": "t", "type": "quantitative", "scale": {"domain": [0, 1.5], "nice": false, "zero": false}}, "y": {"field": "v", "type": "quantitative", "scale": {"domain": [0, 3.87], "nice": false, "zero": false}, "axis": null}, "text": {"field": "label"}}},
   {"data": {"name": "notes"}, "transform": [{"filter": "datum.p == 'e' && datum.k == 'letter'"}], "mark": {"type": "text", "fontSize": 36, "align": "center", "baseline": "middle"},
    "encoding": {"x": {"field": "t", "type": "quantitative", "scale": {"domain": [0, 1.5], "nice": false, "zero": false}}, "y": {"field": "v", "type": "quantitative", "scale": {"domain": [0, 3.87], "nice": false, "zero": false}, "axis": {"orient": "right", "values": [0, 1, 2, 3], "labels": false, "title": null, "tickSize": -24}}, "text": {"field": "label"}}}
  ],
  "resolve": {"axis": {"y": "independent"}}
 },
 {
  "width": 1077, "height": 201,
  "layer": [
   {"mark": {"type": "rule", "color": "black", "strokeWidth": 1.5, "strokeDash": [2, 7]},
    "encoding": {"y": {"datum": 0, "type": "quantitative", "scale": {"domain": [-3.9, 14.2], "nice": false, "zero": false}, "axis": null}}},
   {"data": {"name": "rot"}, "mark": {"type": "line", "color": "black", "strokeWidth": 3, "clip": true},
    "encoding": {
     "x": {"field": "t", "type": "quantitative", "scale": {"domain": [0, 1.5], "nice": false, "zero": false}, "axis": {"orient": "bottom", "values": [0, 0.5, 1.0, 1.5], "format": ".1f", "labelFlush": false, "labelPadding": 32, "tickSize": -7, "title": "t (s)", "titleY": 79, "titleBaseline": "middle"}},
     "y": {"field": "v", "type": "quantitative", "scale": {"domain": [-3.9, 14.2], "nice": false, "zero": false}, "axis": {"orient": "left", "values": [0, 5, 10], "tickSize": -20, "labelPadding": 30, "title": "10⁶cm/s", "titleX": -100, "titleBaseline": "middle", "titleAlign": "center"}}
    }},
   {"data": {"name": "rot"}, "mark": {"type": "point", "shape": "M-0.8,-0.8L0.8,0.8M0.8,-0.8L-0.8,0.8M1,0.6L0.6,1M-1,-0.6L-0.6,-1M1,-0.6L0.6,-1M-1,0.6L-0.6,1M-0.4,-0.4L0.4,-0.4L0.4,0.4L-0.4,0.4Z", "size": 380, "filled": false, "stroke": "black", "strokeWidth": 3.8, "opacity": 1, "clip": true},
    "encoding": {"x": {"field": "t", "type": "quantitative", "scale": {"domain": [0, 1.5], "nice": false, "zero": false}}, "y": {"field": "v", "type": "quantitative", "scale": {"domain": [-3.9, 14.2], "nice": false, "zero": false}, "axis": null}}},
   {"data": {"name": "roterr"}, "mark": {"type": "rule", "color": "black", "strokeWidth": 2.5, "clip": true},
    "encoding": {"x": {"field": "t", "type": "quantitative", "scale": {"domain": [0, 1.5], "nice": false, "zero": false}}, "y": {"field": "lo", "type": "quantitative", "scale": {"domain": [-3.9, 14.2], "nice": false, "zero": false}, "axis": null}, "y2": {"field": "hi"}}},
   {"data": {"name": "roterr"}, "mark": {"type": "point", "shape": "stroke", "size": 130, "filled": false, "stroke": "black", "strokeWidth": 2.5, "opacity": 1, "clip": true},
    "encoding": {"x": {"field": "t", "type": "quantitative", "scale": {"domain": [0, 1.5], "nice": false, "zero": false}}, "y": {"field": "hi", "type": "quantitative", "scale": {"domain": [-3.9, 14.2], "nice": false, "zero": false}, "axis": null}}},
   {"data": {"name": "roterr"}, "mark": {"type": "point", "shape": "stroke", "size": 130, "filled": false, "stroke": "black", "strokeWidth": 2.5, "opacity": 1, "clip": true},
    "encoding": {"x": {"field": "t", "type": "quantitative", "scale": {"domain": [0, 1.5], "nice": false, "zero": false}}, "y": {"field": "lo", "type": "quantitative", "scale": {"domain": [-3.9, 14.2], "nice": false, "zero": false}, "axis": null}}},
   {"data": {"name": "notes"}, "transform": [{"filter": "datum.p == 'f' && datum.k == 'title'"}], "mark": {"type": "text", "fontSize": 46, "align": "center", "baseline": "middle"},
    "encoding": {"x": {"field": "t", "type": "quantitative", "scale": {"domain": [0, 1.5], "nice": false, "zero": false}}, "y": {"field": "v", "type": "quantitative", "scale": {"domain": [-3.9, 14.2], "nice": false, "zero": false}, "axis": null}, "text": {"field": "label"}}},
   {"data": {"name": "notes"}, "transform": [{"filter": "datum.p == 'f' && datum.k == 'letter'"}], "mark": {"type": "text", "fontSize": 36, "align": "center", "baseline": "middle"},
    "encoding": {"x": {"field": "t", "type": "quantitative", "scale": {"domain": [0, 1.5], "nice": false, "zero": false}}, "y": {"field": "v", "type": "quantitative", "scale": {"domain": [-3.9, 14.2], "nice": false, "zero": false}, "axis": {"orient": "right", "values": [0, 5, 10], "labels": false, "title": null, "tickSize": -24}}, "text": {"field": "label"}}}
  ],
  "resolve": {"axis": {"y": "independent"}}
 }
]
}
